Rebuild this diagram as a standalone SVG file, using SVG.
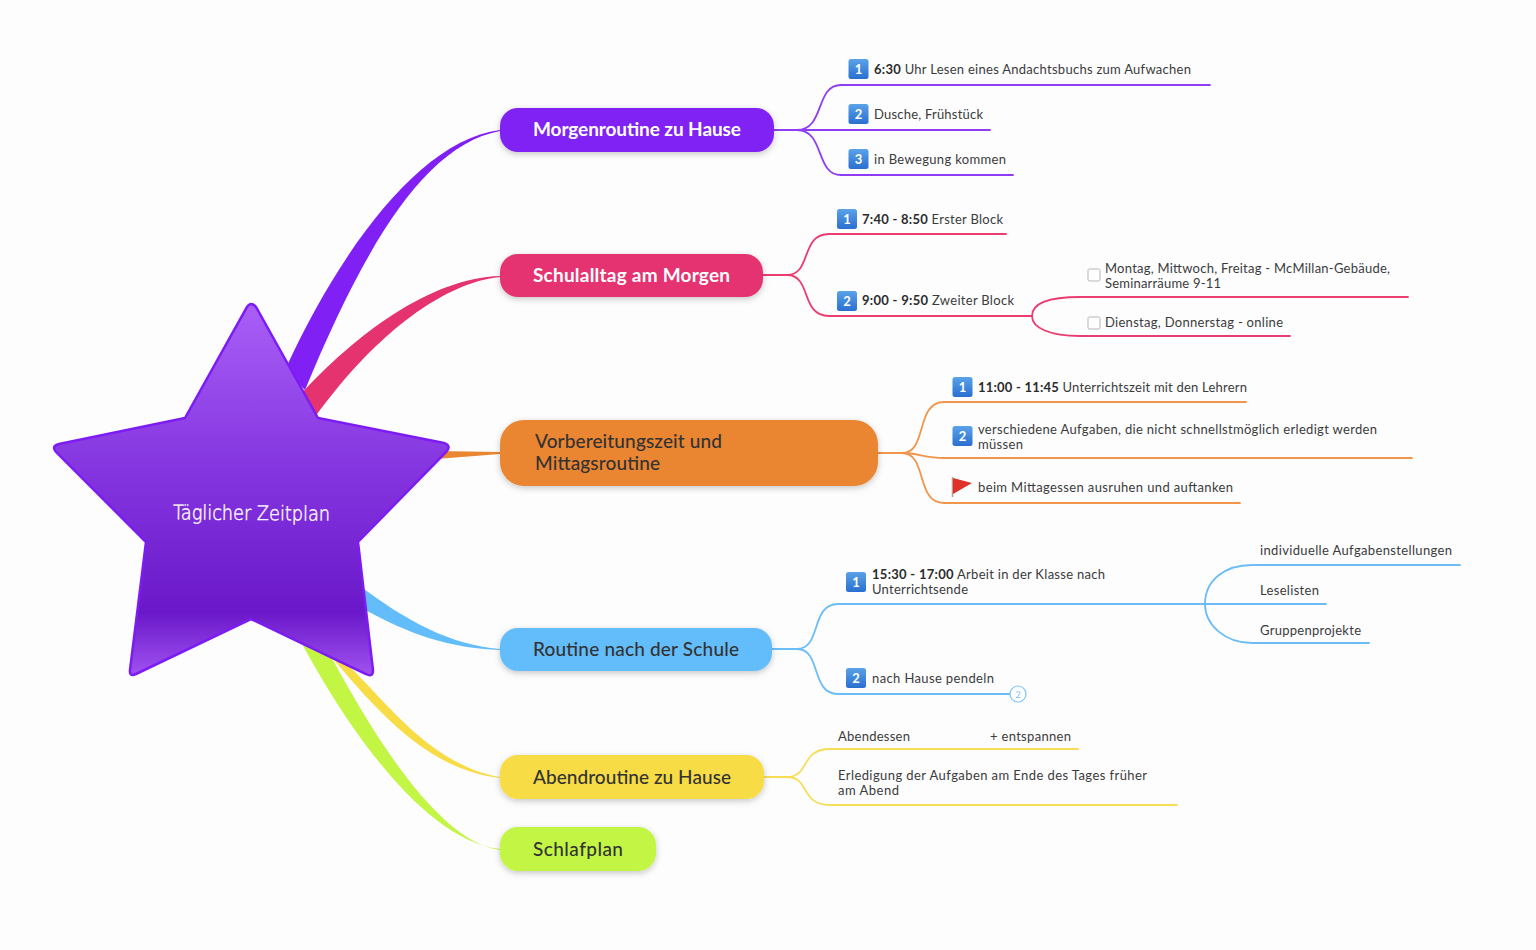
<svg xmlns="http://www.w3.org/2000/svg" width="1536" height="950" viewBox="0 0 1536 950">
<style>
text{font-family:"Lato","Noto Sans",sans-serif;fill:#3b3b3b}
.n{font-size:19px;font-weight:700;fill:#fff}
.d{font-size:19px;font-weight:500;fill:#333}
.t{font-size:13px;font-weight:400}
.b{font-weight:700;fill:#2b2b2b}
.num{font-size:13px;font-weight:700;fill:#fff;text-anchor:middle}
.l{fill:none;stroke-width:1.8;stroke-linecap:round}
.chk{fill:#fff;stroke:#b5b5b5;stroke-width:1}
.s{filter:url(#sh)}
</style>
<defs>
<linearGradient id="star" x1="0" y1="0" x2="0" y2="1"><stop offset="0" stop-color="#a95ff7"/><stop offset=".45" stop-color="#8435df"/><stop offset=".83" stop-color="#6a18c9"/><stop offset="1" stop-color="#a052f0"/></linearGradient>
<linearGradient id="badge" x1="0" y1="0" x2="0" y2="1"><stop offset="0" stop-color="#5aa2e8"/><stop offset="1" stop-color="#2a6fd0"/></linearGradient>
<filter id="sh" x="-10%" y="-30%" width="120%" height="170%"><feDropShadow dx="0" dy="2" stdDeviation="3" flood-color="#000" flood-opacity=".22"/></filter>
<symbol id="bd" viewBox="0 0 20 20" width="20" height="20" overflow="visible"><rect width="20" height="20" rx="2.5" fill="url(#badge)"/></symbol>
</defs>
<rect width="1536" height="950" fill="#fdfdfe"/>
<g id="connectors">
<path fill="#8120f5" d="M285,370C340,250 420,140 500,130L500,131C425,145 365,245 305,390Z"/>
<path fill="#e5336f" d="M300,395C355,335 430,278 500,276L500,277C440,283 370,340 313,420Z"/>
<path fill="#ea8530" d="M436,451L500,452L500,454L436,459Z"/>
<path fill="#64bdfb" d="M360,586C405,620 450,645 500,649L500,650C450,648 410,635 362,608Z"/>
<path fill="#f7dc45" d="M345,662C385,700 430,765 500,777L500,778C430,770 380,715 330,655Z"/>
<path fill="#c3f545" d="M300,640C340,715 420,840 500,849L500,850C440,842 375,740 325,645Z"/>
<g class="l" stroke="#8e3df5">
<path d="M774,130H797C825,130 815,85 841,85H1210"/>
<path d="M774,130H990"/>
<path d="M797,130C825,130 815,175 841,175H1013"/>
</g>
<g class="l" stroke="#ea3d72">
<path d="M763,275H787C812,275 800,234 829,234H1006"/>
<path d="M787,275C812,275 800,316 829,316H1032"/>
<path d="M1015,316H1032C1032,302 1050,297 1080,297H1408"/>
<path d="M1032,316C1032,328 1050,336 1080,336H1290"/>
</g>
<g class="l" stroke="#f0954a">
<path d="M878,453H902C928,453 915,402 944,402H1246"/>
<path d="M902,453C918,453 925,458 944,458H1412"/>
<path d="M902,453C928,453 915,503 944,503H1240"/>
</g>
<g class="l" stroke="#6cbdf5">
<path d="M772,649H797C822,649 810,604 838,604H1205"/>
<path d="M797,649C822,649 810,694 838,694H1010"/>
<path d="M1188,604H1205C1205,580 1225,565 1252,565H1460"/>
<path d="M1205,604H1326"/>
<path d="M1205,604C1205,625 1225,643 1252,643H1369"/>
</g>
<g class="l" stroke="#f7dc55">
<path d="M764,777H787C810,777 800,749 830,749H1078"/>
<path d="M787,777C810,777 800,805 830,805H1177"/>
</g>
</g>
<g id="center"><path d="M247,307Q251,301 256,307L318,418L444,443Q452,446 446,452L358,542L373,670Q373,678 366,674L251,619L136,674Q129,677 130,670L146,542L56,452Q51,446 59,444L185,418Z" fill="url(#star)" stroke="#7d1cf2" stroke-width="2.5"/><text x="173" y="520" font-size="20" textLength="157" lengthAdjust="spacingAndGlyphs" style="font-family:'DejaVu Sans',sans-serif;font-weight:200;fill:#fbf6ff;stroke:#fbf6ff;stroke-width:.5" transform="rotate(0.5 251 514)">Täglicher Zeitplan</text></g>
<g id="n1"><rect class="s" x="500" y="108" width="274" height="44" rx="18" fill="#8120f5"/><text class="n" x="533" y="136" textLength="208">Morgenroutine zu Hause</text></g>
<g id="n2"><rect class="s" x="500" y="254" width="263" height="43" rx="18" fill="#e5336f"/><text class="n" x="533" y="282" textLength="197">Schulalltag am Morgen</text></g>
<g id="n3"><rect class="s" x="500" y="420" width="378" height="66" rx="24" fill="#ea8530"/><text class="d" x="535" y="448" textLength="187">Vorbereitungszeit und</text><text class="d" x="535" y="470" textLength="125">Mittagsroutine</text></g>
<g id="n4"><rect class="s" x="500" y="628" width="272" height="43" rx="18" fill="#64bdfb"/><text class="d" x="533" y="656" textLength="206">Routine nach der Schule</text></g>
<g id="n5"><rect class="s" x="500" y="755" width="264" height="44" rx="18" fill="#f7dc45"/><text class="d" x="533" y="784" textLength="198">Abendroutine zu Hause</text></g>
<g id="n6"><rect class="s" x="500" y="827" width="156" height="44" rx="18" fill="#c3f545"/><text class="d" x="533" y="856" textLength="90">Schlafplan</text></g>
<g id="t11"><use href="#bd" x="848.500" y="59"/><text class="num" x="858.500" y="74">1</text><text class="t" x="874" y="74" textLength="317"><tspan class="b">6:30</tspan> Uhr Lesen eines Andachtsbuchs zum Aufwachen</text></g>
<g id="t12"><use href="#bd" x="848.500" y="104"/><text class="num" x="858.500" y="119">2</text><text class="t" x="874" y="119" textLength="109">Dusche, Frühstück</text></g>
<g id="t13"><use href="#bd" x="848.500" y="149"/><text class="num" x="858.500" y="164">3</text><text class="t" x="874" y="163.500" textLength="132">in Bewegung kommen</text></g>
<g id="t21"><use href="#bd" x="837" y="209"/><text class="num" x="847" y="224">1</text><text class="t" x="862" y="223.500" textLength="141"><tspan class="b">7:40 - 8:50</tspan> Erster Block</text></g>
<g id="t22"><use href="#bd" x="837" y="291"/><text class="num" x="847" y="306">2</text><text class="t" x="862" y="305" textLength="152"><tspan class="b">9:00 - 9:50</tspan> Zweiter Block</text></g>
<g id="t221"><rect class="chk" x="1088" y="269" width="12" height="12" rx="1.500"/><text class="t" x="1105" y="272.500" textLength="285">Montag, Mittwoch, Freitag - McMillan-Gebäude,</text><text class="t" x="1105" y="288" textLength="116">Seminarräume 9-11</text></g>
<g id="t222"><rect class="chk" x="1088" y="317" width="12" height="12" rx="1.500"/><text class="t" x="1105" y="327" textLength="178">Dienstag, Donnerstag - online</text></g>
<g id="t31"><use href="#bd" x="952.500" y="377"/><text class="num" x="962.500" y="392">1</text><text class="t" x="978" y="391.500" textLength="269"><tspan class="b">11:00 - 11:45</tspan> Unterrichtszeit mit den Lehrern</text></g>
<g id="t32"><use href="#bd" x="952.500" y="426"/><text class="num" x="962.500" y="441">2</text><text class="t" x="978" y="434" textLength="399">verschiedene Aufgaben, die nicht schnellstmöglich erledigt werden</text><text class="t" x="978" y="449" textLength="45">müssen</text></g>
<g id="t33"><path d="M952.500,477V497" stroke="#b9a08e" stroke-width="1.500"/><path d="M953,478L972,483L953,494Z" fill="#e0302a"/><text class="t" x="978" y="492" textLength="255">beim Mittagessen ausruhen und auftanken</text></g>
<g id="t41"><use href="#bd" x="846" y="572"/><text class="num" x="856" y="587">1</text><text class="t" x="872" y="579" textLength="233"><tspan class="b">15:30 - 17:00</tspan> Arbeit in der Klasse nach</text><text class="t" x="872" y="594" textLength="96">Unterrichtsende</text></g>
<g id="t42"><use href="#bd" x="846" y="668"/><text class="num" x="856" y="683">2</text><text class="t" x="872" y="683" textLength="122">nach Hause pendeln</text><circle cx="1018" cy="694" r="8" fill="#fff" stroke="#7cc4f7" stroke-width="1.200"/><text x="1018" y="697.500" font-size="9" text-anchor="middle" style="fill:#7cc4f7">2</text></g>
<g id="t411"><text class="t" x="1260" y="555" textLength="192">individuelle Aufgabenstellungen</text></g>
<g id="t412"><text class="t" x="1260" y="594.500" textLength="59">Leselisten</text></g>
<g id="t413"><text class="t" x="1260" y="635" textLength="101">Gruppenprojekte</text></g>
<g id="t51"><text class="t" x="838" y="741" textLength="72">Abendessen</text><text class="t" x="990" y="741" textLength="81">+ entspannen</text></g>
<g id="t52"><text class="t" x="838" y="780" textLength="309">Erledigung der Aufgaben am Ende des Tages früher</text><text class="t" x="838" y="795" textLength="61">am Abend</text></g>
</svg>
